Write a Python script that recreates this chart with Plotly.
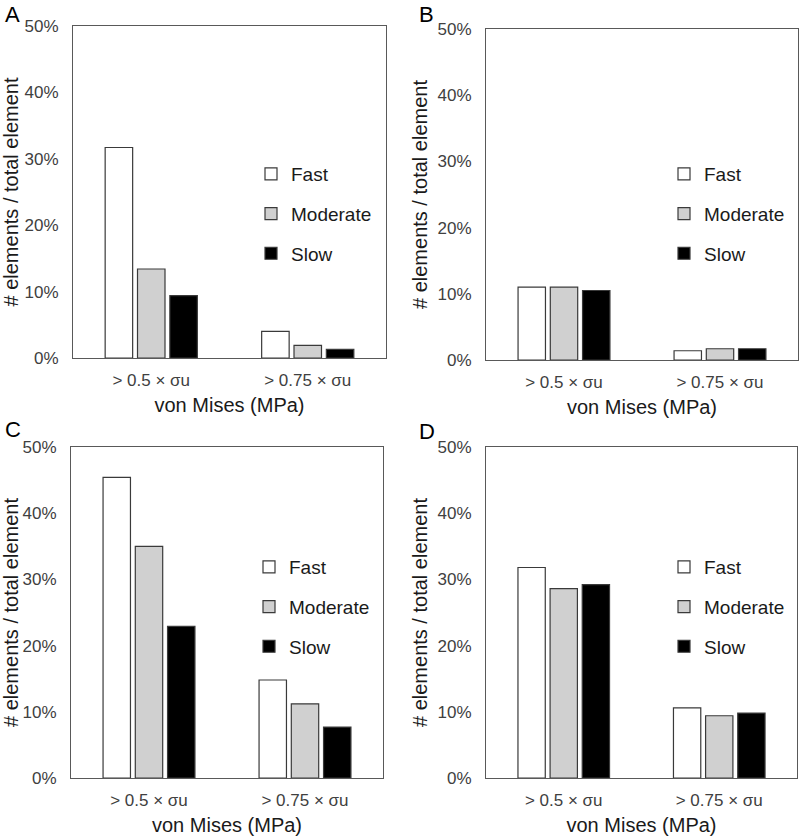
import plotly.graph_objects as go

categories = ["> 0.5 × σu", "> 0.75 × σu"]
series_names = ["Fast", "Moderate", "Slow"]
panel_labels = ["A", "B", "C", "D"]

panel_A_fast = [31.7, 4.0]
panel_A_moderate = [13.4, 1.9]
panel_A_slow = [9.4, 1.3]

panel_B_fast = [11.0, 1.4]
panel_B_moderate = [11.0, 1.7]
panel_B_slow = [10.5, 1.7]

panel_C_fast = [45.4, 14.8]
panel_C_moderate = [35.0, 11.2]
panel_C_slow = [22.9, 7.7]

panel_D_fast = [31.8, 10.6]
panel_D_moderate = [28.6, 9.4]
panel_D_slow = [29.2, 9.8]

y_tickvals = [0, 10, 20, 30, 40, 50]
y_ticktext = ["0%", "10%", "20%", "30%", "40%", "50%"]

panels = [
    [panel_A_fast, panel_A_moderate, panel_A_slow],
    [panel_B_fast, panel_B_moderate, panel_B_slow],
    [panel_C_fast, panel_C_moderate, panel_C_slow],
    [panel_D_fast, panel_D_moderate, panel_D_slow],
]

W, H = 800, 837
fills = ["#ffffff", "#d0d0d0", "#000000"]
FONT = "Arial, Liberation Sans, sans-serif"

# pixel boxes: (left, right, top, bottom)
boxes = [
    (73, 386, 26, 358),
    (486, 798, 29, 360),
    (71, 383, 447, 778),
    (486, 797, 447, 778),
]
legend_top = [129, 126, 101, 101]

fig = go.Figure()
layout = dict()
for i, (vals, box) in enumerate(zip(panels, boxes)):
    n = i + 1
    xa = "x" if n == 1 else f"x{n}"
    ya = "y" if n == 1 else f"y{n}"
    lg = "legend" if n == 1 else f"legend{n}"
    for name, v, c in zip(series_names, vals, fills):
        fig.add_trace(go.Bar(
            x=categories, y=v, name=name, xaxis=xa, yaxis=ya,
            marker=dict(color=c, line=dict(color="#3a3a3a", width=1.2)),
            legend=lg, legendgroup=f"{n}{name}", showlegend=True,
            offsetgroup=name,
        ))
    l, r, t, b = box
    xkey = "xaxis" if n == 1 else f"xaxis{n}"
    ykey = "yaxis" if n == 1 else f"yaxis{n}"
    layout[xkey] = dict(
        domain=[l / W, r / W], anchor=ya, showline=True, linecolor="#595959",
        linewidth=1, mirror=True, ticks="", showgrid=False, automargin=False,
        ticklabelstandoff=7,
        tickfont=dict(size=17, color="#404040", family=FONT),
        title=dict(text="von Mises (MPa)", font=dict(size=20, color="#1a1a1a", family=FONT), standoff=8),
    )
    layout[ykey] = dict(
        domain=[1 - b / H, 1 - t / H], anchor=xa, range=[0, 50],
        tickvals=y_tickvals, ticktext=y_ticktext, showline=True,
        linecolor="#595959", linewidth=1, mirror=True, ticks="", showgrid=False,
        zeroline=False, automargin=False, ticklabelstandoff=10,
        tickfont=dict(size=17, color="#404040", family=FONT),
        title=dict(text="# elements / total element", font=dict(size=20, color="#1a1a1a", family=FONT), standoff=4),
    )
    leg_x = (l + 178) / W
    leg_y = 1 - (t + legend_top[i]) / H
    layout[lg] = dict(
        x=leg_x, y=leg_y, xanchor="left", yanchor="top",
        bgcolor="rgba(0,0,0,0)", font=dict(size=19, color="#1a1a1a", family=FONT),
        tracegroupgap=12, itemwidth=30, traceorder="grouped",
    )

annotations = []
label_pos = [(3, 0), (417, 0), (3, 415), (417, 417)]
for lab, (px, py) in zip(panel_labels, label_pos):
    annotations.append(dict(
        text=lab, x=px / W, y=1 - py / H, xref="paper", yref="paper",
        xanchor="left", yanchor="top", showarrow=False,
        font=dict(size=22, color="#000000", family=FONT),
    ))

fig.update_layout(
    width=W, height=H, margin=dict(l=0, r=0, t=0, b=0),
    paper_bgcolor="white", plot_bgcolor="white",
    barmode="group", bargap=0.38, bargroupgap=0.15,
    annotations=annotations, **layout,
)
fig.write_html("out.html", config={"displayModeBar": False},
               post_script="document.body.style.margin='0';")
